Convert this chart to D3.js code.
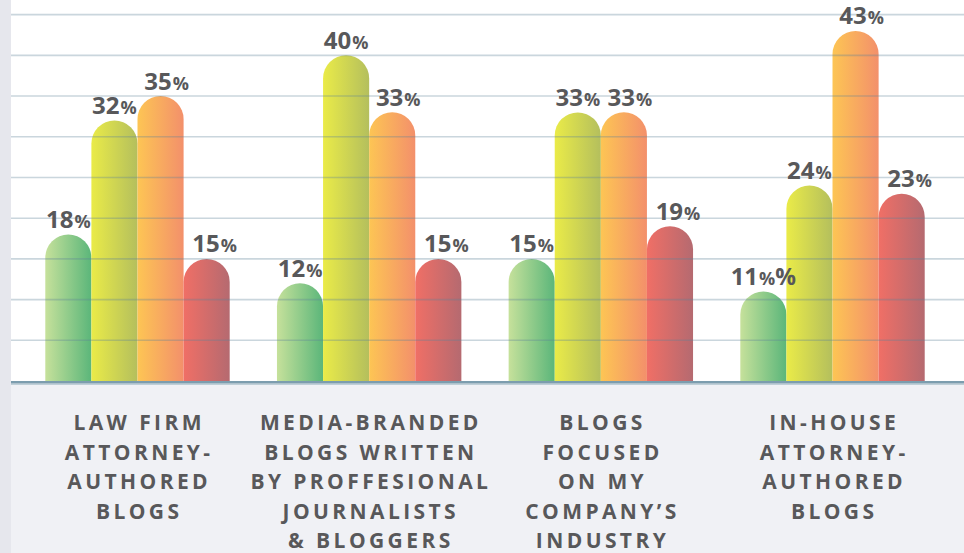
<!DOCTYPE html>
<html>
<head>
<meta charset="utf-8">
<script src="https://cdn.jsdelivr.net/npm/d3@7"></script>
<style>
  html, body { margin: 0; padding: 0; background: #f0f1f5; }
  svg { display: block; }
  text { font-family: "Open Sans", "Noto Sans", sans-serif; font-weight: 700; fill: #58585a; }
</style>
</head>
<body>
<svg id="chart" width="964" height="553"></svg>
<script>
// Blog types, one group of four bars each
const categories = [
  "LAW FIRM ATTORNEY-AUTHORED BLOGS",
  "MEDIA-BRANDED BLOGS WRITTEN BY PROFFESIONAL JOURNALISTS & BLOGGERS",
  "BLOGS FOCUSED ON MY COMPANY'S INDUSTRY",
  "IN-HOUSE ATTORNEY-AUTHORED BLOGS"
];
const categoryLines = [
  ["LAW FIRM", "ATTORNEY-", "AUTHORED", "BLOGS"],
  ["MEDIA-BRANDED", "BLOGS WRITTEN", "BY PROFFESIONAL", "JOURNALISTS", "& BLOGGERS"],
  ["BLOGS", "FOCUSED", "ON MY", "COMPANY\u2019S", "INDUSTRY"],
  ["IN-HOUSE", "ATTORNEY-", "AUTHORED", "BLOGS"]
];
const series = ["s1", "s2", "s3", "s4"];
// Percent values per series, in category order
const s1Values = [18, 12, 15, 11];
const s2Values = [32, 40, 33, 24];
const s3Values = [35, 33, 33, 43];
const s4Values = [15, 15, 19, 23];
// The in-house green label carries a second percent sign
const extraPercent = [[0, 0, 0, 0], [0, 0, 0, 0], [0, 0, 0, 0], [1, 0, 0, 0]];
const gridTicks = [5, 10, 15, 20, 25, 30, 35, 40, 45];

const seriesValues = [s1Values, s2Values, s3Values, s4Values];
const gradients = {
  s1: ["#c6e19b", "#5bb67a"],
  s2: ["#eaeb48", "#b4bf5d"],
  s3: ["#fdc554", "#f3906b"],
  s4: ["#f06f66", "#b56a70"]
};
// Horizontal nudge of value labels so neighbours don't collide
const labelShift = { s1: 0, s2: 0, s3: 6, s4: 8 };

const W = 964, H = 553;
const plotLeft = 11, baseY = 381;
const svg = d3.select("#chart");

// Background panels
svg.append("rect").attr("x", 0).attr("y", 0).attr("width", W).attr("height", H).attr("fill", "#f0f1f5");
svg.append("rect").attr("x", 0).attr("y", 0).attr("width", plotLeft).attr("height", H).attr("fill", "#e6e7ed");
svg.append("rect").attr("x", plotLeft).attr("y", 0).attr("width", W - plotLeft).attr("height", baseY).attr("fill", "#ffffff");

const x0 = d3.scaleBand().domain(categories).range([plotLeft, 959]).paddingInner(0.204).paddingOuter(0.148);
const x1 = d3.scaleBand().domain(series).range([0, x0.bandwidth()]).padding(0);
const y = d3.scaleLinear().domain([0, 46.8]).range([baseY, 0]);

const defs = svg.append("defs");
series.forEach(s => {
  const g = defs.append("linearGradient").attr("id", "grad-" + s)
    .attr("x1", "0%").attr("x2", "100%").attr("y1", "0%").attr("y2", "0%");
  g.append("stop").attr("offset", "0%").attr("stop-color", gradients[s][0]);
  g.append("stop").attr("offset", "100%").attr("stop-color", gradients[s][1]);
});

const rows = [];
categories.forEach((c, ci) => {
  series.forEach((s, si) => {
    rows.push({ cat: c, ci, s, si, v: seriesValues[si][ci], extra: extraPercent[ci][si] });
  });
});

// Pill-shaped bars: straight sides with a semicircular cap
function pillPath(d) {
  const bx = x0(d.cat) + x1(d.s);
  const w = x1.bandwidth();
  const r = w / 2;
  const top = y(d.v);
  return `M${bx},${baseY} L${bx},${top + r} A${r},${r} 0 0 1 ${bx + w},${top + r} L${bx + w},${baseY} Z`;
}

svg.append("g").selectAll("path").data(rows).join("path")
  .attr("d", pillPath)
  .attr("fill", d => `url(#grad-${d.s})`);

// Gridlines sit over the bars and tint them slightly
svg.append("g").selectAll("line").data(gridTicks).join("line")
  .attr("x1", plotLeft).attr("x2", W)
  .attr("y1", d => y(d)).attr("y2", d => y(d))
  .attr("stroke", "#5d8499").attr("stroke-opacity", 0.33).attr("stroke-width", 1.6);

// Baseline
svg.append("rect").attr("x", plotLeft).attr("y", baseY).attr("width", W - plotLeft).attr("height", 2.6).attr("fill", "#7c9dae");
svg.append("rect").attr("x", plotLeft).attr("y", baseY + 2.6).attr("width", W - plotLeft).attr("height", 1.2).attr("fill", "#b3c6d0");

// Value labels
const labels = svg.append("g").selectAll("text").data(rows).join("text")
  .attr("x", d => x0(d.cat) + x1(d.s) + x1.bandwidth() / 2 + labelShift[d.s])
  .attr("y", d => y(d.v) - 6.5)
  .attr("text-anchor", "middle");
labels.append("tspan").attr("font-size", 24).text(d => d.v);
labels.append("tspan").attr("font-size", 18).attr("dx", 1).text("%");
labels.filter(d => d.extra).append("tspan").attr("font-size", 23).text("%");

// Category labels
const catG = svg.append("g").selectAll("text").data(categories).join("text")
  .attr("x", d => x0(d) + x0.bandwidth() / 2)
  .attr("y", 430)
  .attr("text-anchor", "middle")
  .attr("font-size", 21)
  .attr("letter-spacing", 3.4);
catG.each(function (d, i) {
  const t = d3.select(this);
  categoryLines[i].forEach((line, li) => {
    t.append("tspan")
      .attr("x", x0(d) + x0.bandwidth() / 2 + 1.7)
      .attr("y", 430 + li * 29.6)
      .text(line);
  });
});
</script>
</body>
</html>
